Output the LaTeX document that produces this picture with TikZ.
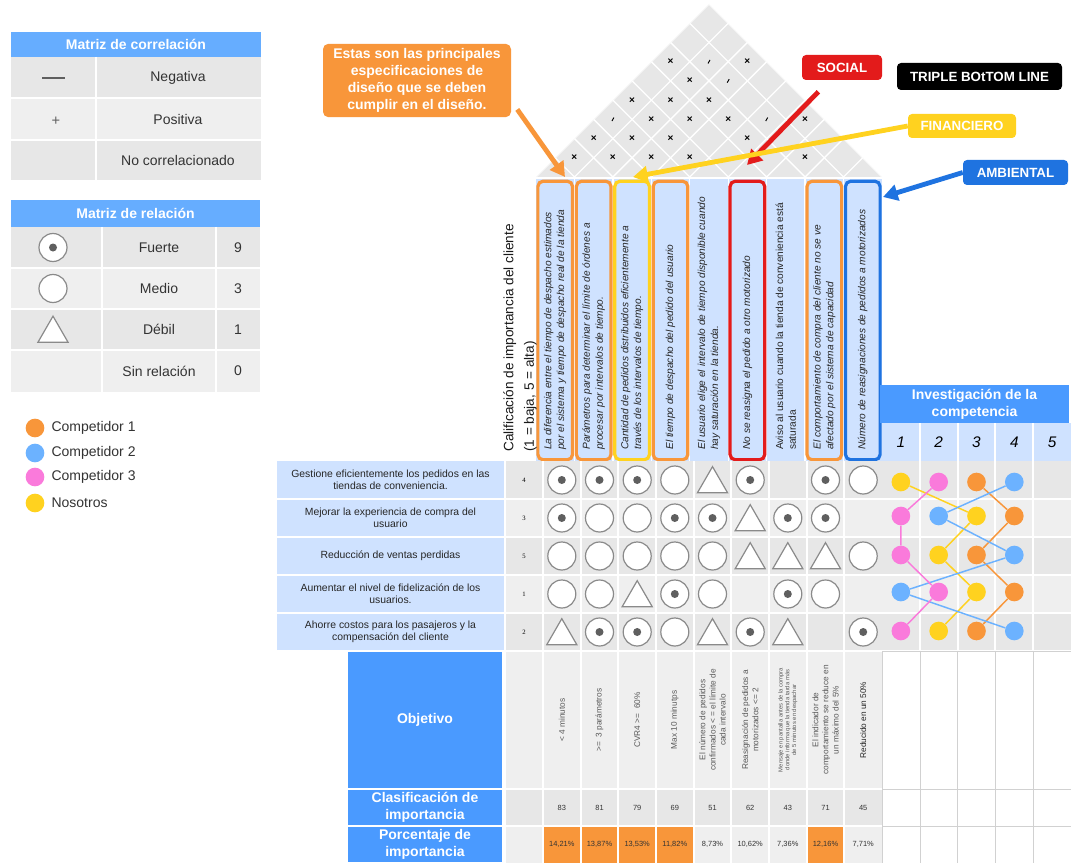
\documentclass[tikz,border=0pt]{standalone}
\usepackage{fontspec}
\setmainfont{Liberation Sans}
\newfontfamily\numfont{Liberation Serif}
\usetikzlibrary{arrows.meta,shapes.geometric,positioning}

\definecolor{legblue}{HTML}{66ADFF}
\definecolor{boxblue}{HTML}{4A9AFF}
\definecolor{lightblue}{HTML}{CFE2FF}
\definecolor{cellgray}{HTML}{E7E7E7}
\definecolor{cellgrayb}{HTML}{EFEFEF}
\definecolor{orng}{HTML}{F8963A}
\definecolor{redb}{HTML}{E31B1B}
\definecolor{yelo}{HTML}{FFD21F}
\definecolor{ambblue}{HTML}{1F73E0}
\definecolor{compblue}{HTML}{6CB2FF}
\definecolor{comppink}{HTML}{FA7ADB}
\definecolor{symgray}{HTML}{8A8A8A}
\definecolor{dotgray}{HTML}{5F5F5F}
\definecolor{txtgray}{HTML}{333333}

\begin{document}
\begin{tikzpicture}[x=0.75pt,y=-0.75pt]
\tikzstyle{headtext}=[text=white, font=\bfseries\fontsize{10.5}{12.5}\selectfont, align=center, inner sep=0pt]
\tikzstyle{legtext}=[text=txtgray, font=\fontsize{10.5}{12.5}\selectfont, inner sep=0pt]
\tikzstyle{relstrong}=[circle, draw=symgray, fill=white, line width=0.9pt, minimum size=21pt, inner sep=0pt,
    path picture={\fill[dotgray] (path picture bounding box.center) circle (3pt);}]
\tikzstyle{relmedium}=[circle, draw=symgray, fill=white, line width=0.9pt, minimum size=21pt, inner sep=0pt]
\tikzstyle{relweak}=[regular polygon, regular polygon sides=3, draw=symgray, fill=white, line width=0.9pt,
    minimum size=26pt, inner sep=0pt, yshift=-3pt]
\tikzstyle{cdot}=[circle, minimum size=14pt, inner sep=0pt]
\tikzstyle{corrx}=[font=\bfseries\fontsize{7.5}{7.5}\selectfont, inner sep=0pt]
\tikzstyle{corrneg}=[inner sep=0pt, rotate=60]
\tikzstyle{specbox}=[rectangle, rounded corners=4pt, line width=2.4pt, minimum width=26pt,
    minimum height=209pt, inner sep=0pt]
\tikzstyle{spectext}=[rotate=90, align=left, text=black!85, font=\itshape\fontsize{7.6}{9.6}\selectfont, inner sep=0pt]
\tikzstyle{reqtext}=[align=center, text=black!85, font=\fontsize{7.8}{9}\selectfont, inner sep=0pt]
\tikzstyle{tinynum}=[font=\numfont\fontsize{5}{6}\selectfont, inner sep=0pt]
\tikzstyle{smallnum}=[text=black!80, font=\fontsize{5.6}{6}\selectfont, inner sep=0pt]
\tikzstyle{objtext}=[rotate=90, align=center, text=black!65, font=\fontsize{6.2}{7.6}\selectfont, inner sep=0pt]
\tikzstyle{bluebox}=[rectangle, fill=boxblue, draw=white, line width=1pt, text=white,
    font=\bfseries\fontsize{10.5}{12.5}\selectfont, align=center, minimum width=117pt, inner sep=0pt]
\tikzstyle{tagbox}=[rectangle, rounded corners=3pt, text=white, font=\bfseries\fontsize{10}{12}\selectfont, inner sep=0pt]
\tikzstyle{fatarrow}=[line width=3.6pt, -{Triangle[length=11pt,width=12pt]}]

\useasboundingbox (0,0) rectangle (1071,863);
\fill[white] (0,0) rectangle (1071,863);

% legend: correlacion
\fill[cellgray] (11,57) rectangle (261,180);
\fill[cellgrayb] (11,98.5) rectangle (261,140);
\fill[legblue] (11,32) rectangle (261,57);
\draw[white, line width=1.5pt] (11,98.5) -- (261,98.5) (11,140) -- (261,140) (96,57) -- (96,180);
\node[headtext] (corrhead) at (136,44.5) {Matriz de correlación};
\draw[dotgray, line width=0.8pt] (42,78) -- (65,78);
\node[text=dotgray, font=\fontsize{11}{11}\selectfont, inner sep=0pt] (possym) at (56,121) {+};
\node[legtext] (neg) at (178,77.5) {Negativa};
\node[legtext] (pos) at (178,119) {Positiva};
\node[legtext] (nocorr) at (178,160) {No correlacionado};

% legend: relacion
\fill[cellgray] (11,227) rectangle (260,392);
\fill[cellgrayb] (11,268) rectangle (260,309);
\fill[cellgrayb] (11,350) rectangle (260,392);
\fill[legblue] (11,200) rectangle (260,227);
\draw[white, line width=1.5pt] (11,268) -- (260,268) (11,309) -- (260,309) (11,350) -- (260,350)
    (102,227) -- (102,392) (216,227) -- (216,392);
\node[headtext] (relhead) at (135.5,213.5) {Matriz de relación};
\node[relstrong] (lstrong) at (53,247.5) {};
\node[relmedium] (lmedium) at (53,288.5) {};
\node[relweak] (lweak) at (53,329.5) {};
\node[legtext] (fuerte) at (159,247.5) {Fuerte};
\node[legtext] (medio) at (159,288.5) {Medio};
\node[legtext] (debil) at (159,329.5) {Débil};
\node[legtext] (sinrel) at (159,371) {Sin relación};
\node[legtext] (w9) at (238,247.5) {9};
\node[legtext] (w3) at (238,288.5) {3};
\node[legtext] (w1) at (238,329.5) {1};
\node[legtext] (w0) at (238,371) {0};

% legend: competidores
\node[cdot, fill=orng] (lc1) at (35,428) {};
\node[cdot, fill=compblue] (lc2) at (35,453) {};
\node[cdot, fill=comppink] (lc3) at (35,477) {};
\node[cdot, fill=yelo] (lc4) at (35,503) {};
\node[legtext, right=5pt of lc1] (lt1) {Competidor 1};
\node[legtext, right=5pt of lc2] (lt2) {Competidor 2};
\node[legtext, right=5pt of lc3] (lt3) {Competidor 3};
\node[legtext, right=5pt of lc4] (lt4) {Nosotros};

% roof
\begin{scope}
\clip (536,177) -- (709,4) -- (882,177) -- cycle;
\fill[cellgray] (536,177) -- (709,4) -- (882,177) -- cycle;
\foreach \k in {0,...,9}
  \draw[white, line width=1pt] ({536+38.44*\k},177) -- ++(-180,-180) ({536+38.44*\k},177) -- ++(180,-180);
\end{scope}
\node[corrx] (c12) at (574.4,157.8) {×};
\node[corrx] (c23) at (612.9,157.8) {×};
\node[corrx] (c34) at (651.4,157.8) {×};
\node[corrx] (c45) at (689.8,157.8) {×};
\node[corrx] (c78) at (805.1,157.8) {×};
\node[corrx] (c13) at (593.7,138.6) {×};
\node[corrx] (c24) at (632.1,138.6) {×};
\node[corrx] (c35) at (670.5,138.6) {×};
\node[corrx] (c57) at (747.4,138.6) {×};
\node[corrneg] (c14) at (612.9,119.3) {\rule{3pt}{0.7pt}};
\node[corrx] (c25) at (651.4,119.3) {×};
\node[corrx] (c36) at (689.8,119.3) {×};
\node[corrx] (c47) at (728.2,119.3) {×};
\node[corrneg] (c58) at (766.7,119.3) {\rule{3pt}{0.7pt}};
\node[corrx] (c69) at (805.1,119.3) {×};
\node[corrx] (c15) at (632.1,100.1) {×};
\node[corrx] (c26) at (670.5,100.1) {×};
\node[corrx] (c37) at (709.0,100.1) {×};
\node[corrx] (c27) at (689.8,80.9) {×};
\node[corrneg] (c38) at (728.2,80.9) {\rule{3pt}{0.7pt}};
\node[corrx] (c17) at (670.5,61.7) {×};
\node[corrneg] (c28) at (709.0,61.7) {\rule{3pt}{0.7pt}};
\node[corrx] (c39) at (747.4,61.7) {×};

% especificaciones de diseno
\fill[lightblue] (536,179) rectangle (882,462);
\foreach \x in {574.4,612.9,651.3,689.8,728.2,766.6,805.1,843.5}
  \draw[white, line width=1pt] (\x,179) -- (\x,462);
\node[specbox, draw=orng] (h1) at (555.2,320.5) {};
\node[specbox, draw=orng] (h2) at (593.7,320.5) {};
\node[specbox, draw=yelo] (h3) at (632.1,320.5) {};
\node[specbox, draw=orng] (h4) at (670.5,320.5) {};
\node[specbox] (h5) at (709.0,320.5) {};
\node[specbox, draw=redb] (h6) at (747.4,320.5) {};
\node[specbox] (h7) at (785.9,320.5) {};
\node[specbox, draw=orng] (h8) at (824.3,320.5) {};
\node[specbox, draw=ambblue] (h9) at (862.8,320.5) {};
\node[spectext, anchor=west] (t1) at (555.2,450) {La diferencia entre el tiempo de despacho estimados\\por el sistema y tiempo de despacho real de la tienda};
\node[spectext, anchor=west] (t2) at (593.7,450) {Parámetros para determinar el límite de órdenes a\\procesar por intervalos de tiempo.};
\node[spectext, anchor=west] (t3) at (632.1,450) {Cantidad de pedidos distribuidos eficientemente a\\través de los intervalos de tiempo.};
\node[spectext, anchor=west] (t4) at (670.5,450) {El tiempo de despacho del pedido del usuario};
\node[spectext, anchor=west] (t5) at (709.0,450) {El usuario elige el intervalo de tiempo disponible cuando\\hay saturación en la tienda.};
\node[spectext, anchor=west] (t6) at (747.4,450) {No se reasigna el pedido a otro motorizado};
\node[spectext, anchor=west, font=\fontsize{7.6}{9.6}\selectfont] (t7) at (785.9,450) {Aviso al usuario cuando la tienda de conveniencia está\\saturada};
\node[spectext, anchor=west] (t8) at (824.3,450) {El comportamiento de compra del cliente no se ve\\afectado por el sistema de capacidad};
\node[spectext, anchor=west] (t9) at (862.8,450) {Número de reasignaciones de pedidos a motorizados};

\node[rotate=90, anchor=north west, align=left, text=black!90, font=\fontsize{10.2}{15.5}\selectfont, inner sep=0pt]
  (califlabel) at (503,452) {Calificación de importancia del cliente\\(1 = baja, 5 = alta)};

% callouts
\node[rectangle, rounded corners=4pt, fill=orng, text=white, font=\bfseries\fontsize{10.5}{12.8}\selectfont,
  align=center, minimum width=141pt, minimum height=55pt, inner sep=0pt] (specs) at (417,80.5)
  {Estas son las principales\\especificaciones de\\diseño que se deben\\cumplir en el diseño.};
\node[tagbox, fill=redb, minimum width=60pt, minimum height=18.75pt] (social) at (842,67.5) {SOCIAL};
\node[tagbox, fill=black, minimum width=123.75pt, minimum height=20.25pt] (tbl) at (979.5,76.5) {TRIPLE BOtTOM LINE};
\node[tagbox, fill=yelo, minimum width=81pt, minimum height=18pt] (fin) at (962,126) {FINANCIERO};
\node[tagbox, fill=ambblue, minimum width=78.75pt, minimum height=18.75pt] (amb) at (1015.5,172.5) {AMBIENTAL};

\coordinate (tipO) at (565,177);
\coordinate (tipR) at (747,165);
\coordinate (tipY) at (633,177);
\coordinate (tipB) at (883,197);
\draw[fatarrow, orng] ([shift={(6,-8)}]specs.south east) -- (tipO);
\draw[fatarrow, redb, shorten <=12pt] (social) -- (tipR);
\draw[fatarrow, yelo] (fin.west) -- (tipY);
\draw[fatarrow, ambblue] (amb.west) -- (tipB);

% matriz de relacion
\fill[lightblue] (277,461) rectangle (504,651);
\fill[cellgray] (505,461) rectangle (1071,651);
\fill[cellgrayb] (505,499) rectangle (1071,537);
\fill[cellgrayb] (505,575) rectangle (1071,613);
\fill[lightblue] (882,423) rectangle (1071,461);
\fill[cellgrayb] (505,651) rectangle (882,789);
\fill[cellgray] (505,789) rectangle (882,826);
\fill[cellgrayb] (505,826) rectangle (882,863);
\fill[orng] (543,826) rectangle (693.7,863);
\fill[orng] (806.7,826) rectangle (844.3,863);
\foreach \x in {504.5,543,580.7,618.3,656,693.7,731.3,769,806.7,844.3}
  \draw[white, line width=1.5pt] (\x,461) -- (\x,863);
\foreach \x in {919.8,957.6,995.4,1033.2}
  \draw[white, line width=1.5pt] (\x,423) -- (\x,651);
\foreach \y in {499,537,575,613,651,789,826}
  \draw[white, line width=1.5pt] (277,\y) -- (1071,\y);
\draw[black!18] (882,651) rectangle (1071,863);
\foreach \x in {919.8,957.6,995.4,1033.2}
  \draw[black!18] (\x,651) -- (\x,863);
\draw[black!18] (882,789) -- (1071,789) (882,826) -- (1071,826);

\node[reqtext] (req1) at (390.5,480) {Gestione eficientemente los pedidos en las\\tiendas de conveniencia.};
\node[reqtext] (req2) at (390.5,518) {Mejorar la experiencia de compra del\\usuario};
\node[reqtext] (req3) at (390.5,556) {Reducción de ventas perdidas};
\node[reqtext] (req4) at (390.5,594) {Aumentar el nivel de fidelización de los\\usuarios.};
\node[reqtext] (req5) at (390.5,632) {Ahorre costos para los pasajeros y la\\compensación del cliente};
\node[tinynum] (imp1) at (524,480) {4};
\node[tinynum] (imp2) at (524,518) {3};
\node[tinynum] (imp3) at (524,556) {5};
\node[tinynum] (imp4) at (524,594) {1};
\node[tinynum] (imp5) at (524,632) {2};

% fila 1
\node[relstrong] (r1c1) at (561.8,480) {};
\node[relstrong] (r1c2) at (599.5,480) {};
\node[relstrong] (r1c3) at (637.2,480) {};
\node[relmedium] (r1c4) at (674.8,480) {};
\node[relweak] (r1c5) at (712.5,480) {};
\node[relstrong] (r1c6) at (750.2,480) {};
\node[relstrong] (r1c8) at (825.5,480) {};
\node[relmedium] (r1c9) at (863.2,480) {};
% fila 2
\node[relstrong] (r2c1) at (561.8,518) {};
\node[relmedium] (r2c2) at (599.5,518) {};
\node[relmedium] (r2c3) at (637.2,518) {};
\node[relstrong] (r2c4) at (674.8,518) {};
\node[relstrong] (r2c5) at (712.5,518) {};
\node[relweak] (r2c6) at (750.2,518) {};
\node[relstrong] (r2c7) at (787.8,518) {};
\node[relstrong] (r2c8) at (825.5,518) {};
% fila 3
\node[relmedium] (r3c1) at (561.8,556) {};
\node[relmedium] (r3c2) at (599.5,556) {};
\node[relmedium] (r3c3) at (637.2,556) {};
\node[relmedium] (r3c4) at (674.8,556) {};
\node[relmedium] (r3c5) at (712.5,556) {};
\node[relweak] (r3c6) at (750.2,556) {};
\node[relweak] (r3c7) at (787.8,556) {};
\node[relweak] (r3c8) at (825.5,556) {};
\node[relmedium] (r3c9) at (863.2,556) {};
% fila 4
\node[relmedium] (r4c1) at (561.8,594) {};
\node[relmedium] (r4c2) at (599.5,594) {};
\node[relweak] (r4c3) at (637.2,594) {};
\node[relstrong] (r4c4) at (674.8,594) {};
\node[relmedium] (r4c5) at (712.5,594) {};
\node[relstrong] (r4c7) at (787.8,594) {};
\node[relmedium] (r4c8) at (825.5,594) {};
% fila 5
\node[relweak] (r5c1) at (561.8,632) {};
\node[relstrong] (r5c2) at (599.5,632) {};
\node[relstrong] (r5c3) at (637.2,632) {};
\node[relmedium] (r5c4) at (674.8,632) {};
\node[relweak] (r5c5) at (712.5,632) {};
\node[relstrong] (r5c6) at (750.2,632) {};
\node[relweak] (r5c7) at (787.8,632) {};
\node[relstrong] (r5c9) at (863.2,632) {};

% investigacion de la competencia
\node[bluebox, minimum width=141.75pt, minimum height=28.5pt, draw=none] (inv) at (974.5,404)
  {Investigación de la\\competencia};
\node[font=\itshape\fontsize{11.5}{12}\selectfont, inner sep=0pt] (n1) at (900.9,442) {1};
\node[font=\itshape\fontsize{11.5}{12}\selectfont, inner sep=0pt] (n2) at (938.7,442) {2};
\node[font=\itshape\fontsize{11.5}{12}\selectfont, inner sep=0pt] (n3) at (976.5,442) {3};
\node[font=\itshape\fontsize{11.5}{12}\selectfont, inner sep=0pt] (n4) at (1014.3,442) {4};
\node[font=\itshape\fontsize{11.5}{12}\selectfont, inner sep=0pt] (n5) at (1052.1,442) {5};

\node[cdot, fill=yelo] (nos1) at (900.9,482) {};
\node[cdot, fill=yelo] (nos2) at (976.5,516) {};
\node[cdot, fill=yelo] (nos3) at (938.7,555) {};
\node[cdot, fill=yelo] (nos4) at (976.5,592) {};
\node[cdot, fill=yelo] (nos5) at (938.7,631) {};
\node[cdot, fill=orng] (cmpa1) at (976.5,482) {};
\node[cdot, fill=orng] (cmpa2) at (1014.3,516) {};
\node[cdot, fill=orng] (cmpa3) at (976.5,555) {};
\node[cdot, fill=orng] (cmpa4) at (1014.3,592) {};
\node[cdot, fill=orng] (cmpa5) at (976.5,631) {};
\node[cdot, fill=compblue] (cmpb1) at (1014.3,482) {};
\node[cdot, fill=compblue] (cmpb2) at (938.7,516) {};
\node[cdot, fill=compblue] (cmpb3) at (1014.3,555) {};
\node[cdot, fill=compblue] (cmpb4) at (900.9,592) {};
\node[cdot, fill=compblue] (cmpb5) at (1014.3,631) {};
\node[cdot, fill=comppink] (cmpc1) at (938.7,482) {};
\node[cdot, fill=comppink] (cmpc2) at (900.9,516) {};
\node[cdot, fill=comppink] (cmpc3) at (900.9,555) {};
\node[cdot, fill=comppink] (cmpc4) at (938.7,592) {};
\node[cdot, fill=comppink] (cmpc5) at (900.9,631) {};
\draw[yelo, line width=1.1pt] (nos1) -- (nos2) -- (nos3) -- (nos4) -- (nos5);
\draw[orng, line width=1.1pt] (cmpa1) -- (cmpa2) -- (cmpa3) -- (cmpa4) -- (cmpa5);
\draw[compblue, line width=1.1pt] (cmpb1) -- (cmpb2) -- (cmpb3) -- (cmpb4) -- (cmpb5);
\draw[comppink, line width=1.1pt] (cmpc1) -- (cmpc2) -- (cmpc3) -- (cmpc4) -- (cmpc5);

% objetivos e importancia
\node[bluebox, minimum height=103.5pt] (obj) at (425,720) {Objetivo};
\node[bluebox, minimum height=27.75pt] (clas) at (425,807.5) {Clasificación de\\importancia};
\node[bluebox, minimum height=27.75pt] (porc) at (425,844.5) {Porcentaje de\\importancia};

\node[objtext] (obj1) at (561.8,720) {< 4 minutos};
\node[objtext] (obj2) at (599.5,720) {>=~ 3 parámetros};
\node[objtext] (obj3) at (637.2,720) {CVR4 >=~ 60\%};
\node[objtext] (obj4) at (674.8,720) {Max 10 minutps};
\node[objtext] (obj5) at (712.5,720) {El número de pedidos\\confirmados < = el límite de\\cada intervalo};
\node[objtext] (obj6) at (750.2,720) {Reasignación de pedidos a\\motorizados <= 2};
\node[objtext, font=\fontsize{4.4}{5.1}\selectfont] (obj7) at (787.8,720) {Mensaje en pantalla antes de la compra\\donde informa que la tienda tarda más\\de 5 minutos en despachar};
\node[objtext] (obj8) at (825.5,720) {El indicador de\\comportamiento se reduce en\\un máximo del 5\%};
\node[objtext, text=black!85] (obj9) at (863.2,720) {Reducido en un 50\%};

\node[smallnum] (val1) at (561.8,807.5) {83};
\node[smallnum] (val2) at (599.5,807.5) {81};
\node[smallnum] (val3) at (637.2,807.5) {79};
\node[smallnum] (val4) at (674.8,807.5) {69};
\node[smallnum] (val5) at (712.5,807.5) {51};
\node[smallnum] (val6) at (750.2,807.5) {62};
\node[smallnum] (val7) at (787.8,807.5) {43};
\node[smallnum] (val8) at (825.5,807.5) {71};
\node[smallnum] (val9) at (863.2,807.5) {45};

\node[smallnum] (pct1) at (561.8,844.5) {14,21\%};
\node[smallnum] (pct2) at (599.5,844.5) {13,87\%};
\node[smallnum] (pct3) at (637.2,844.5) {13,53\%};
\node[smallnum] (pct4) at (674.8,844.5) {11,82\%};
\node[smallnum] (pct5) at (712.5,844.5) {8,73\%};
\node[smallnum] (pct6) at (750.2,844.5) {10,62\%};
\node[smallnum] (pct7) at (787.8,844.5) {7,36\%};
\node[smallnum] (pct8) at (825.5,844.5) {12,16\%};
\node[smallnum] (pct9) at (863.2,844.5) {7,71\%};
\end{tikzpicture}
\end{document}
